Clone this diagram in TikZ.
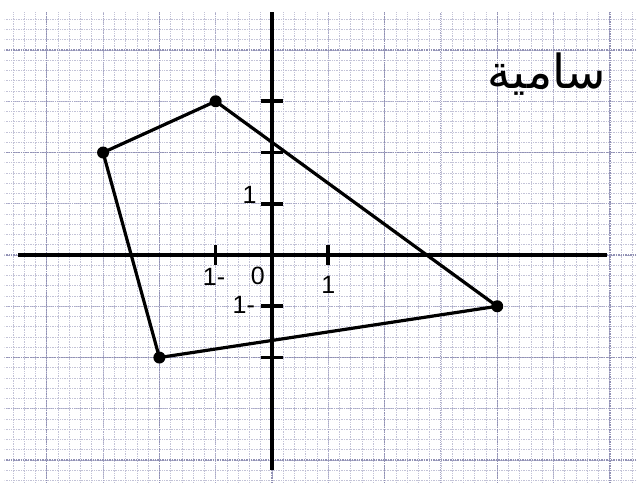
\documentclass[tikz,border=0pt]{standalone}
\usepackage{fontspec}
\setmainfont{Liberation Sans}
\newfontfamily\arabicfont[Script=Arabic]{DejaVu Sans}
\TeXXeTstate=1
\definecolor{gridfine}{RGB}{195,195,215}
\definecolor{gridmid}{RGB}{170,170,200}
\definecolor{gridmaj}{RGB}{145,145,180}
\tikzset{
  finegrid/.style={gridfine, line width=0.7pt, densely dotted},
  midgrid/.style={gridmid, line width=0.9pt, densely dotted},
  majgrid/.style={gridmaj, line width=1.4pt, densely dotted},
  axisline/.style={black, line width=4.2pt},
  tickmark/.style={black, line width=3.6pt},
  polyline/.style={black, line width=3.2pt, line join=round},
  ptdot/.style={circle, fill=black, inner sep=0pt, minimum size=12pt},
  ticklabel/.style={font=\fontsize{25}{25}\selectfont, inner sep=0pt}
}
\begin{document}
\begin{tikzpicture}[x=56.3pt,y=51.25pt]
\useasboundingbox (-4.831,-4.429) rectangle (6.483,4.976);
\fill[white] (-4.831,-4.429) rectangle (6.483,4.976);
\begin{scope}
\clip (-4.75,-4.43) rectangle (6.49,4.74);
\draw[finegrid] (-5,-5) grid[xstep=0.2,ystep=0.2] (7,5);
\draw[midgrid] (-5,-5) grid[xstep=1,ystep=1] (7,5);
\draw[majgrid] (-6,-6) grid[xstep=2,ystep=2] (8,6);
\end{scope}
% axes
\coordinate (xl) at (-4.51,0);
\coordinate (xr) at (5.95,0);
\coordinate (yt) at (0,4.74);
\coordinate (yb) at (0,-4.2);
\draw[axisline] (xl) -- (xr);
\draw[axisline] (yb) -- (yt);
% ticks
\foreach \v in {3,2,1,-1,-2}{
  \draw[tickmark] (-0.2,\v) -- (0.2,\v);
}
\foreach \v in {-1,1}{
  \draw[tickmark] (\v,-0.2) -- (\v,0.2);
}
% labels
\node[ticklabel] (ly1) at (-0.40,1.17) {1};
\node[ticklabel] (lxm1) at (-1.03,-0.42) {1-};
\node[ticklabel] (lo) at (-0.25,-0.41) {0};
\node[ticklabel] (lx1) at (1.0,-0.58) {1};
\node[ticklabel] (lym1) at (-0.50,-0.98) {1-};
% polygon
\node[ptdot] (A) at (-1,3) {};
\node[ptdot] (B) at (-3,2) {};
\node[ptdot] (C) at (-2,-2) {};
\node[ptdot] (D) at (4,-1) {};
\draw[polyline] (A.center) -- (B.center) -- (C.center) -- (D.center) -- cycle;
% name
\node[inner sep=0pt] (name) at (4.88,3.53) {\fontsize{47}{47}\selectfont\arabicfont\beginR سامية\endR};
\end{tikzpicture}
\end{document}
